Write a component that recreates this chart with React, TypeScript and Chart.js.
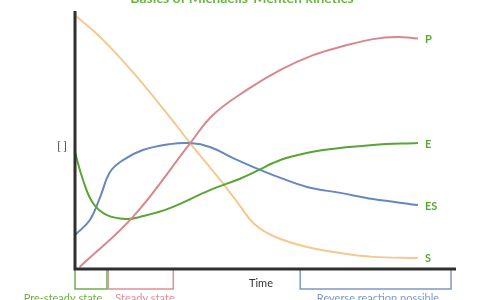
import React, { useEffect, useRef } from "react";
import { Chart, registerables } from "chart.js";

Chart.register(...registerables);

const seriesNames = ["P", "E", "ES", "S"];
const seriesColors = ["#D9868D", "#58A534", "#6787BF", "#F4C891"];

const pX = [1.2, 15.2, 30.2, 36.2, 45.1, 53.8, 62.5, 70.5, 78.2, 84.5, 90];
const pY = [0.8, 20.2, 48.7, 59.7, 69.4, 77.1, 82.9, 86.4, 89.1, 89.9, 89.3];

const eX = [0, 2.1, 4.7, 8.4, 13.6, 17.1, 24.9, 35.4, 43.3, 48, 52, 56.4, 65.1, 78.2, 90];
const eY = [45.3, 34.5, 25.6, 20.9, 19.4, 20.2, 23.6, 30.6, 35, 38.2, 41.1, 43.4, 46.1, 48.1, 48.8];

const esX = [0, 3.9, 6.6, 9.2, 12.6, 17.8, 24.9, 30.2, 35.4, 41.5, 48.6, 52, 60.9, 69.6, 78.2, 90];
const esY = [13.2, 19, 27.9, 37.6, 42.2, 46.1, 48.4, 48.8, 47.3, 43, 38.4, 36.4, 31.8, 29.5, 27.1, 24.8];

const sX = [0, 7.35, 16.3, 24.9, 30.2, 38.1, 43.3, 47, 52, 60.9, 69.6, 78.2, 90];
const sY = [98.4, 88.8, 74.4, 58.9, 48.8, 34.5, 24.5, 17.5, 12.8, 8.5, 6.2, 4.7, 4.3];

const phaseLabels = ["Pre-steady state", "Steady state", "Reverse reaction possible"];
const phaseStart = [0, 8.7, 59.1];
const phaseEnd = [8.4, 25.8, 98.7];
const phaseColors = ["#6DB04A", "#DE8F96", "#7C98C6"];

const titleText = "Basics of Michaelis-Menten kinetics";
const xAxisLabel = "Time";
const yAxisLabel = "[ ]";

const allX = [pX, eX, esX, sX];
const allY = [pY, eY, esY, sY];

export default function App() {
  const ref = useRef<HTMLCanvasElement>(null);
  useEffect(() => {
    const canvas = ref.current;
    if (!canvas) return;
    const annot = {
      id: "annot",
      afterDraw(chart: any) {
        const ctx = chart.ctx;
        const xs = chart.scales.x;
        const ys = chart.scales.y;
        const a = chart.chartArea;
        ctx.save();
        phaseLabels.forEach((lab, i) => {
          const x0 = xs.getPixelForValue(phaseStart[i]);
          const x1 = xs.getPixelForValue(phaseEnd[i]);
          ctx.strokeStyle = phaseColors[i];
          ctx.lineWidth = 1.5;
          ctx.beginPath();
          ctx.moveTo(x0, a.bottom);
          ctx.lineTo(x0, a.bottom + 20);
          ctx.lineTo(x1, a.bottom + 20);
          ctx.lineTo(x1, a.bottom);
          ctx.stroke();
        });
        ctx.strokeStyle = "#2f2f2f";
        ctx.lineWidth = 3;
        ctx.beginPath();
        ctx.moveTo(a.left, a.top);
        ctx.lineTo(a.left, a.bottom);
        ctx.lineTo(a.right, a.bottom);
        ctx.stroke();
        ctx.fillStyle = "#6BB545";
        ctx.font = "bold 14px Lato";
        ctx.textAlign = "center";
        ctx.textBaseline = "alphabetic";
        ctx.fillText(titleText, 242, 3);
        ctx.fillStyle = "#333";
        ctx.font = "11px Lato";
        ctx.textBaseline = "middle";
        ctx.fillText(xAxisLabel, 261, 283);
        ctx.fillText(yAxisLabel, 62, 146);
        ctx.font = "11px Lato";
        ctx.textBaseline = "alphabetic";
        const labelCenters = [63, 145, 378];
        phaseLabels.forEach((lab, i) => {
          ctx.fillStyle = phaseColors[i];
          ctx.fillText(lab, labelCenters[i], 302);
        });
        ctx.font = "bold 11px Lato";
        ctx.textAlign = "left";
        ctx.textBaseline = "middle";
        ctx.fillStyle = "#5AA832";
        seriesNames.forEach((n, i) => {
          const lx = allX[i][allX[i].length - 1];
          const ly = allY[i][allY[i].length - 1];
          ctx.fillText(n, xs.getPixelForValue(lx) + 7, ys.getPixelForValue(ly) + 1);
        });
        ctx.restore();
      },
    };
    const chart = new Chart(canvas, {
      type: "line",
      data: {
        datasets: seriesNames.map((n, i) => ({
          label: n,
          data: allX[i].map((x, j) => ({ x, y: allY[i][j] })),
          borderColor: seriesColors[i],
          borderWidth: 2,
          pointRadius: 0,
          fill: false,
          tension: 0.4,
        })),
      },
      options: {
        animation: false,
        responsive: false,
        maintainAspectRatio: false,
        layout: { padding: { left: 75, right: 24, top: 11, bottom: 31 } },
        plugins: { legend: { display: false }, tooltip: { enabled: false }, title: { display: false } },
        scales: {
          x: { type: "linear", min: 0, max: 100, display: false },
          y: { type: "linear", min: 0, max: 100, display: false },
        },
      },
      plugins: [annot],
    });
    return () => chart.destroy();
  }, []);
  return (
    <div style={{ position: "fixed", left: 0, top: 0, width: 480, height: 300, background: "#fff" }}>
      <canvas ref={ref} width={480} height={300} style={{ width: 480, height: 300, display: "block" }} />
    </div>
  );
}
